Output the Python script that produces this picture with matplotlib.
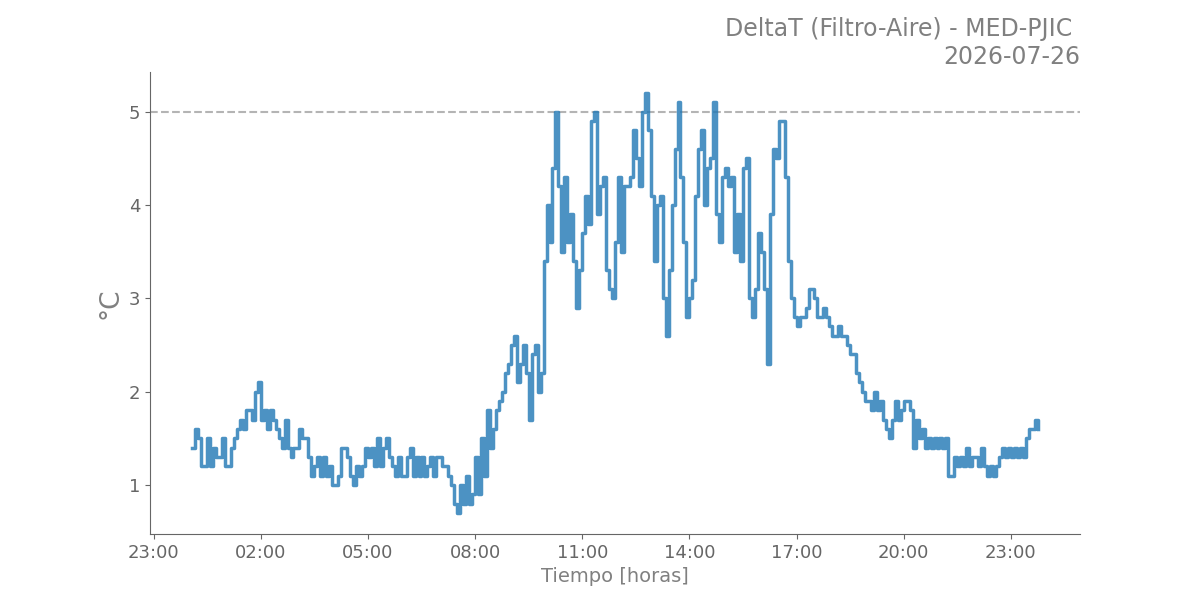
"""
DeltaT (Filtro-Aire) for station MED-PJIC over one day, 5-minute readings.
"""

import pandas as pd
import matplotlib
matplotlib.use("Agg")
import matplotlib.pyplot as plt
import matplotlib.dates as mdates

station = "MED-PJIC"
day = "2026-07-26"
limit = 5.0

# DeltaT readings every 5 min, starting 00:05 (one row per hour)
h00 = [1.4, 1.6, 1.5, 1.2, 1.2, 1.5, 1.2, 1.4, 1.3, 1.3, 1.5]
h01 = [1.2, 1.2, 1.4, 1.5, 1.6, 1.7, 1.6, 1.8, 1.8, 1.7, 2.0, 2.1]
h02 = [1.7, 1.8, 1.6, 1.8, 1.7, 1.6, 1.5, 1.4, 1.7, 1.4, 1.3, 1.4]
h03 = [1.4, 1.6, 1.5, 1.5, 1.3, 1.1, 1.2, 1.3, 1.1, 1.3, 1.1, 1.2]
h04 = [1.0, 1.0, 1.1, 1.4, 1.4, 1.3, 1.1, 1.0, 1.2, 1.1, 1.2, 1.4]
h05 = [1.3, 1.4, 1.2, 1.5, 1.2, 1.4, 1.5, 1.3, 1.2, 1.1, 1.3, 1.1]
h06 = [1.1, 1.3, 1.4, 1.1, 1.3, 1.1, 1.3, 1.1, 1.2, 1.3, 1.1, 1.3]
h07 = [1.3, 1.2, 1.2, 1.1, 1.0, 0.8, 0.7, 1.0, 0.8, 1.1, 0.8, 0.9]
h08 = [1.3, 0.9, 1.5, 1.1, 1.8, 1.4, 1.6, 1.8, 1.9, 2.0, 2.2, 2.3]
h09 = [2.5, 2.6, 2.1, 2.3, 2.5, 2.2, 1.7, 2.4, 2.5, 2.0, 2.2, 3.4]
h10 = [4.0, 3.6, 4.4, 5.0, 4.2, 3.5, 4.3, 3.6, 3.9, 3.4, 2.9, 3.3]
h11 = [3.7, 4.1, 3.8, 4.9, 5.0, 3.9, 4.2, 4.3, 3.3, 3.1, 3.0, 3.6]
h12 = [4.3, 3.5, 4.2, 4.2, 4.3, 4.8, 4.5, 4.2, 5.0, 5.2, 4.8, 4.1]
h13 = [3.4, 4.0, 4.1, 3.0, 2.6, 3.3, 4.0, 4.6, 5.1, 4.3, 3.6, 2.8]
h14 = [3.0, 3.2, 4.1, 4.6, 4.8, 4.0, 4.4, 4.5, 5.1, 3.9, 3.6, 4.3]
h15 = [4.4, 4.2, 4.3, 3.5, 3.9, 3.4, 4.4, 4.5, 3.0, 2.8, 3.1, 3.7]
h16 = [3.5, 3.1, 2.3, 3.9, 4.6, 4.5, 4.9, 4.9, 4.3, 3.4, 3.0, 2.8]
h17 = [2.7, 2.8, 2.8, 2.9, 3.1, 3.1, 3.0, 2.8, 2.8, 2.9, 2.8, 2.7]
h18 = [2.6, 2.6, 2.7, 2.6, 2.6, 2.5, 2.4, 2.4, 2.2, 2.1, 2.0, 1.9]
h19 = [1.9, 1.8, 2.0, 1.8, 1.9, 1.7, 1.6, 1.5, 1.7, 1.9, 1.7, 1.8]
h20 = [1.9, 1.9, 1.8, 1.4, 1.7, 1.5, 1.6, 1.4, 1.5, 1.4, 1.5, 1.4]
h21 = [1.5, 1.4, 1.5, 1.1, 1.1, 1.3, 1.2, 1.3, 1.2, 1.4, 1.2, 1.3]
h22 = [1.3, 1.2, 1.4, 1.2, 1.1, 1.2, 1.1, 1.2, 1.3, 1.4, 1.3, 1.4]
h23 = [1.3, 1.4, 1.3, 1.4, 1.3, 1.5, 1.6, 1.6, 1.7, 1.6]

delta_t = (h00 + h01 + h02 + h03 + h04 + h05 + h06 + h07 + h08 + h09 + h10 + h11
           + h12 + h13 + h14 + h15 + h16 + h17 + h18 + h19 + h20 + h21 + h22 + h23)
times = pd.date_range(f"{day} 00:05", periods=len(delta_t), freq="5min")

fig, ax = plt.subplots(figsize=(12, 6), dpi=100)
ax.plot(times, delta_t, color="tab:blue", alpha=0.8, lw=2.5, drawstyle="steps-post")
ax.axhline(limit, color="#b4b4b4", ls="--", lw=1.5, zorder=0)

ax.xaxis.set_major_locator(mdates.HourLocator(byhour=[23, 2, 5, 8, 11, 14, 17, 20]))
ax.xaxis.set_major_formatter(mdates.DateFormatter("%H:%M"))

for side in ("top", "right"):
    ax.spines[side].set_visible(False)
for side in ("left", "bottom"):
    ax.spines[side].set_color("#666666")
ax.tick_params(colors="#666666", labelsize=13, labelcolor="#666666")

ax.set_xlabel("Tiempo [horas]", fontsize=14, color="gray")
ax.set_ylabel("°C", fontsize=19, color="gray")
ax.set_title(f"DeltaT (Filtro-Aire) - {station} \n{day}", loc="right",
             fontsize=17, color="gray")

fig.savefig("out.png", dpi=100)
